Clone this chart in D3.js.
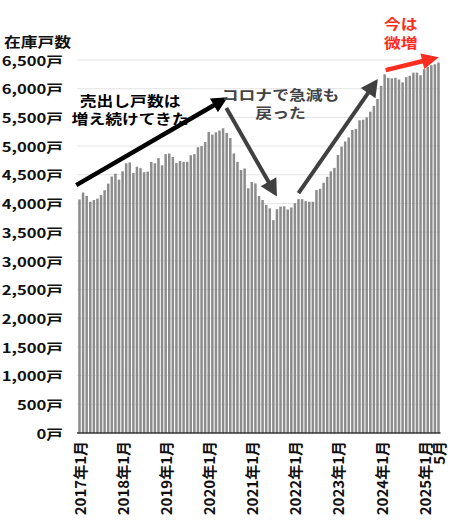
<!DOCTYPE html>
<html>
<head>
<meta charset="utf-8">
<script src="https://cdn.jsdelivr.net/npm/d3@7"></script>
<style>
  body { margin: 0; background: #fff; }
  svg text { font-family: "Noto Sans CJK JP", "Noto Sans", sans-serif; font-weight: 700; }
</style>
</head>
<body>
<svg id="chart" width="450" height="527"></svg>
<script>
// monthly inventory, 2017/1 .. 2025/5
var inv2017 = [4070, 4190, 4130, 4030, 4060, 4085, 4145, 4230, 4345, 4470, 4520, 4415];
var inv2018 = [4560, 4700, 4715, 4530, 4640, 4615, 4545, 4555, 4725, 4700, 4790, 4665];
var inv2019 = [4860, 4870, 4810, 4705, 4740, 4725, 4725, 4840, 4860, 4980, 5000, 5070];
var inv2020 = [5245, 5200, 5240, 5270, 5310, 5230, 5140, 4870, 4725, 4585, 4610, 4265];
var inv2021 = [4375, 4350, 4130, 4060, 3975, 3915, 3710, 3900, 3945, 3950, 3895, 3930];
var inv2022 = [4005, 4075, 4075, 4040, 4030, 4030, 4235, 4255, 4360, 4465, 4560, 4620];
var inv2023 = [4845, 4990, 5080, 5150, 5280, 5300, 5450, 5460, 5500, 5600, 5700, 5820];
var inv2024 = [6050, 6250, 6190, 6180, 6190, 6160, 6110, 6200, 6225, 6280, 6280, 6235];
var inv2025 = [6340, 6380, 6410, 6425, 6455];

var years = [2017, 2018, 2019, 2020, 2021, 2022, 2023, 2024, 2025];
var yTicks = [0, 500, 1000, 1500, 2000, 2500, 3000, 3500, 4000, 4500, 5000, 5500, 6000, 6500];

var values = [].concat(inv2017, inv2018, inv2019, inv2020, inv2021, inv2022, inv2023, inv2024, inv2025);

var sx = 1.2; // glyphs in the picture are stretched sideways

var svg = d3.select('#chart');

var x = d3.scaleBand()
  .domain(d3.range(values.length))
  .range([77.7, 440.3])
  .paddingInner(0.3)
  .paddingOuter(0.15);

var y = d3.scaleLinear()
  .domain([0, 6500])
  .range([433, 60]);

//center of a (fractional) month index
function xc(i) {
  return x(0) + x.bandwidth() / 2 + i * x.step();
}

//gridlines
svg.append('g')
  .selectAll('line')
  .data(yTicks.slice(1))
  .join('line')
  .attr('x1', 77)
  .attr('x2', 440)
  .attr('y1', function(d) { return y(d); })
  .attr('y2', function(d) { return y(d); })
  .attr('stroke', '#e4e4e4')
  .attr('stroke-width', 1);

//y labels
svg.append('g')
  .selectAll('text')
  .data(yTicks)
  .join('text')
  .attr('transform', function(d) { return 'translate(63,' + y(d) + ') scale(1.28,1)'; })
  .attr('text-anchor', 'end')
  .attr('dominant-baseline', 'central')
  .attr('font-size', 13)
  .attr('fill', '#111')
  .text(function(d) { return d3.format(',')(d) + '戸'; });

svg.append('text')
  .attr('transform', 'translate(4,47) scale(' + sx + ',1)')
  .attr('font-size', 14)
  .attr('fill', '#111')
  .text('在庫戸数');

//bars
svg.append('g')
  .selectAll('rect')
  .data(values)
  .join('rect')
  .attr('x', function(d, i) { return x(i); })
  .attr('y', function(d) { return y(d); })
  .attr('width', x.bandwidth())
  .attr('height', function(d) { return y(0) - y(d); })
  .attr('fill', '#8c8c8c');

//baseline
svg.append('line')
  .attr('x1', 77)
  .attr('x2', 440.5)
  .attr('y1', y(0))
  .attr('y2', y(0))
  .attr('stroke', '#333')
  .attr('stroke-width', 1.6);

//x labels
var xLabels = years.map(function(yr, k) { return { i: k * 12, text: yr + '年1月' }; });
xLabels.push({ i: values.length - 1, text: '5月' });

svg.append('g')
  .selectAll('text')
  .data(xLabels)
  .join('text')
  .attr('transform', function(d) { return 'translate(' + xc(d.i) + ',441) rotate(-90)'; })
  .attr('text-anchor', 'end')
  .attr('dominant-baseline', 'central')
  .attr('font-size', 15)
  .attr('fill', '#111')
  .text(function(d) { return d.text; });

//annotations
var arrows = [
  { i0: -0.9, v0: 4320, i1: 41.3, v1: 5850, color: '#000', w: 4.5, len: 16, half: 8 },
  { i0: 40.9, v0: 5662, i1: 55.0, v1: 4120, color: '#404040', w: 4, len: 17, half: 9 },
  { i0: 61.0, v0: 4181, i1: 83.1, v1: 6167, color: '#404040', w: 4, len: 17, half: 9 },
  { i0: 85.3, v0: 6323, i1: 100.1, v1: 6550, color: '#ff2d20', w: 4.5, len: 17, half: 8 }
];

arrows.forEach(function(a) {
  var x0 = xc(a.i0), y0 = y(a.v0), x1 = xc(a.i1), y1 = y(a.v1);
  var dx = x1 - x0, dy = y1 - y0;
  var L = Math.sqrt(dx * dx + dy * dy);
  var ux = dx / L, uy = dy / L;
  var bx = x1 - ux * a.len, by = y1 - uy * a.len;

  svg.append('line')
    .attr('x1', x0).attr('y1', y0)
    .attr('x2', bx + ux * 2).attr('y2', by + uy * 2)
    .attr('stroke', a.color)
    .attr('stroke-width', a.w);

  svg.append('path')
    .attr('d', 'M' + x1 + ',' + y1 +
      'L' + (bx - uy * a.half) + ',' + (by + ux * a.half) +
      'L' + (bx + uy * a.half) + ',' + (by - ux * a.half) + 'Z')
    .attr('fill', a.color);
});

var notes = [
  { i: 14.1, v: 5696, lines: ['売出し戸数は', '増え続けてきた'], color: '#000', gap: 18 },
  { i: 56.0, v: 5801, lines: ['コロナで急減も', '戻った'], color: '#444', gap: 18 },
  { i: 89.5, v: 7040, lines: ['今は', '微増'], color: '#ff2d20', gap: 19 }
];

notes.forEach(function(n) {
  n.lines.forEach(function(t, k) {
    svg.append('text')
      .attr('transform', 'translate(' + xc(n.i) + ',' + (y(n.v) + k * n.gap) + ') scale(' + sx + ',1)')
      .attr('text-anchor', 'middle')
      .attr('font-size', 14)
      .attr('fill', n.color)
      .text(t);
  });
});
</script>
</body>
</html>
